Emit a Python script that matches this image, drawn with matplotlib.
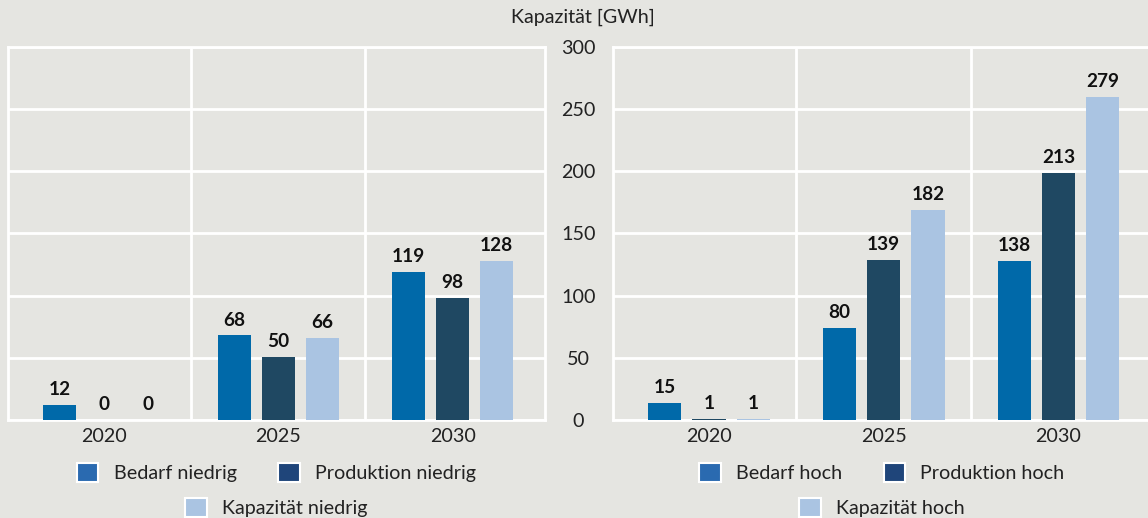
import matplotlib.pyplot as plt
from matplotlib.patches import Patch

years = ["2020", "2025", "2030"]

# left panel: bar heights and printed labels
niedrig_bedarf = [12, 68, 119]
niedrig_produktion = [0, 51, 98]
niedrig_kapazitaet = [0, 66, 128]
niedrig_labels = [["12", "0", "0"], ["68", "50", "66"], ["119", "98", "128"]]

# right panel: bars as drawn (labels differ from drawn heights)
hoch_bedarf = [14, 74, 128]
hoch_produktion = [1, 129, 199]
hoch_kapazitaet = [1, 169, 260]
hoch_labels = [["15", "1", "1"], ["80", "139", "182"], ["138", "213", "279"]]

y_ticks = [0, 50, 100, 150, 200, 250, 300]

bg = "#e5e5e1"
c_bedarf = "#0069a9"
c_prod = "#1f4862"
c_kap = "#aac4e2"
leg_colors = ["#2a6ab0", "#1f457a", "#aac4e2"]

plt.rcParams['font.family'] = ['Lato', 'DejaVu Sans']
fs = 14.2

fig = plt.figure(figsize=(11.48, 5.18), dpi=100, facecolor=bg)
ax_l = fig.add_axes([8 / 1148, 98 / 518, 537 / 1148, 373 / 518])
ax_r = fig.add_axes([613 / 1148, 98 / 518, 538 / 1148, 373 / 518])

w = 0.19
off = 0.253


def draw_panel(ax, series, labels, names):
    ax.set_facecolor(bg)
    xs = range(len(years))
    cols = [c_bedarf, c_prod, c_kap]
    for k, (vals, col) in enumerate(zip(series, cols)):
        pos = [x + (k - 1) * off for x in xs]
        bars = ax.bar(pos, vals, width=w, color=col, zorder=3)
        for i, b in enumerate(bars):
            ax.annotate(labels[i][k], (b.get_x() + b.get_width() / 2, b.get_height()),
                        xytext=(0, 5), textcoords="offset points",
                        ha="center", va="bottom", fontsize=fs - 0.5, fontweight="bold",
                        color="#111111")
    ax.set_xlim(-0.55, 2.53)
    ax.set_ylim(0, 300)
    ax.set_yticks(y_ticks)
    ax.set_xticks(list(xs))
    ax.set_xticklabels(years, fontsize=fs, color="#222222")
    ax.set_xticks([0.5, 1.5], minor=True)
    ax.tick_params(axis="x", which="both", length=0, pad=6)
    ax.tick_params(axis="y", length=0)
    ax.grid(axis="y", color="white", lw=2, zorder=1)
    ax.grid(axis="x", which="minor", color="white", lw=2, zorder=1)
    for s in ax.spines.values():
        s.set_color("white")
        s.set_linewidth(2)
    h = [Patch(facecolor=c, edgecolor="white", lw=1.5) for c in leg_colors]
    kw = dict(frameon=False, fontsize=fs, handlelength=1.08, handleheight=1.08,
              handletextpad=0.78, columnspacing=2.1, labelcolor="#222222")
    leg1 = ax.legend(h[:2], names[:2], ncol=2, loc="center",
                     bbox_to_anchor=(0.5, -0.142), **kw)
    ax.add_artist(leg1)
    ax.legend(h[2:], names[2:], loc="center", bbox_to_anchor=(0.5, -0.235), **kw)


draw_panel(ax_l, [niedrig_bedarf, niedrig_produktion, niedrig_kapazitaet], niedrig_labels,
           ["Bedarf niedrig", "Produktion niedrig", "Kapazität niedrig"])
draw_panel(ax_r, [hoch_bedarf, hoch_produktion, hoch_kapazitaet], hoch_labels,
           ["Bedarf hoch", "Produktion hoch", "Kapazität hoch"])

ax_l.set_yticklabels([])
ax_r.set_yticklabels([str(t) for t in y_ticks], fontsize=fs, color="#222222")
ax_r.tick_params(axis="y", pad=25)
for lab in ax_r.get_yticklabels():
    lab.set_horizontalalignment("center")

fig.text(583 / 1148, 1 - 17 / 518, "Kapazität [GWh]", ha="center", va="center",
         fontsize=fs, color="#222222")

fig.savefig("out.png", dpi=100, facecolor=bg)
